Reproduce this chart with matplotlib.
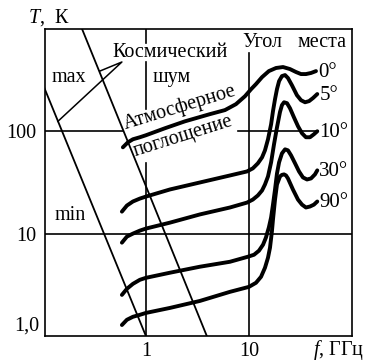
import matplotlib
matplotlib.use("Agg")
from matplotlib import pyplot as plt

plt.rcParams['font.family'] = ['Liberation Serif', 'DejaVu Serif']
plt.rcParams['mathtext.fontset'] = 'custom'
plt.rcParams['mathtext.rm'] = 'Liberation Serif'
plt.rcParams['mathtext.it'] = 'Liberation Serif:italic'

# brightness temperature of the atmosphere, f in GHz, T in K
f_0 = [0.598, 0.669, 0.748, 0.874, 1.0, 1.53, 2.39, 4.18, 5.85, 7.48, 9.15, 10.5, 11.7,
       13.4, 15.6, 18.3, 21.4, 25.0, 28.6, 32.0, 35.7, 40.0, 44.7]
T_0 = [69.7, 78.0, 83.5, 87.4, 91.4, 107, 125, 147, 161, 184, 220, 258, 289,
       338, 387, 415, 424, 405, 379, 362, 362, 371, 387]

f_5 = [0.585, 0.654, 0.748, 0.874, 1.0, 1.71, 3.34, 6.54, 9.57, 10.9, 12.2, 13.4, 14.3,
       15.3, 16.4, 17.1, 17.9, 18.7, 19.6, 20.9, 22.4, 23.9, 26.1, 29.2, 32.0, 35.0,
       38.3, 41.8, 46.0]
T_5 = [16.4, 18.8, 20.6, 22.0, 23.0, 27.0, 31.6, 37.0, 40.5, 43.4, 48.6, 55.6, 65.1,
       83.5, 117, 157, 206, 258, 309, 346, 354, 331, 282, 225, 201, 192,
       197, 211, 231]

f_10 = [0.585, 0.654, 0.748, 0.874, 1.0, 1.71, 3.34, 6.54, 9.57, 10.9, 12.2, 13.4, 14.3,
        15.3, 16.4, 17.5, 18.7, 20.0, 20.9, 21.9, 23.4, 25.0, 27.3, 29.9, 32.7, 35.7,
        39.1, 42.7, 46.0]
T_10 = [8.16, 9.35, 10.0, 10.7, 11.2, 12.8, 15.4, 18.0, 20.1, 21.5, 23.6, 26.4, 30.2,
        36.2, 49.7, 74.6, 109, 154, 180, 192, 188, 168, 137, 112, 95.6, 87.4,
        87.4, 93.5, 100]

f_30 = [0.585, 0.654, 0.748, 0.874, 1.0, 1.71, 3.34, 6.54, 9.78, 11.2, 12.5, 13.7, 14.6,
        15.6, 16.4, 17.1, 17.9, 18.7, 19.6, 20.9, 22.4, 23.9, 25.6, 28.0, 30.6, 33.4,
        36.6, 40.0, 43.7, 46.0]
T_30 = [2.52, 2.89, 3.23, 3.54, 3.70, 4.15, 4.75, 5.31, 5.95, 6.22, 6.81, 7.80, 9.14,
        11.5, 14.4, 19.2, 27.0, 38.7, 49.7, 60.8, 66.6, 65.1, 58.2, 48.6, 40.5, 35.4,
        33.8, 34.6, 37.9, 41.5]

f_90 = [0.585, 0.654, 0.748, 0.874, 1.0, 1.71, 3.34, 6.54, 10.0, 11.7, 13.1, 14.3, 15.3,
        16.0, 16.7, 17.1, 17.9, 18.7, 20.0, 20.9, 21.9, 22.9, 23.9, 26.7, 29.9, 32.7,
        35.7, 39.1, 42.7, 46.0]
T_90 = [1.28, 1.44, 1.54, 1.61, 1.68, 1.88, 2.20, 2.70, 3.02, 3.31, 3.79, 4.64, 5.82,
        7.29, 10.5, 13.7, 21.5, 30.2, 36.2, 37.5, 37.9, 37.0, 34.6, 27.0, 21.5, 19.2,
        18.0, 18.4, 19.2, 20.6]

curves = [(f_0, T_0), (f_5, T_5), (f_10, T_10), (f_30, T_30), (f_90, T_90)]
angle_labels = ['0°', '5°', '10°', '30°', '90°']

# cosmic noise bounds
f_cosmic_max = [0.1, 1.0]
T_cosmic_max = [288, 1.0]
f_cosmic_min = [0.24, 3.9]
T_cosmic_min = [1000, 1.0]

fig = plt.figure(figsize=(3.69, 3.63), dpi=100)
ax = fig.add_axes([0.122, 0.0744, 0.832, 0.846])
ax.set_xscale('log')
ax.set_yscale('log')
ax.set_xlim(0.105, 100)
ax.set_ylim(1, 1000)

# grid lines, broken where the captions sit
grid_kw = dict(color='black', lw=1.2, zorder=1)
ax.axvline(1, 0.0, 0.564, **grid_kw)
ax.axvline(1, 0.738, 0.893, **grid_kw)
ax.axvline(1, 0.954, 1.0, **grid_kw)
ax.axvline(10, 0.0, 0.922, **grid_kw)
ax.axhline(10, 0.0, 1.0, **grid_kw)
ax.axhline(100, 0.0, 0.254, **grid_kw)
ax.axhline(100, 0.629, 0.889, **grid_kw)

ax.plot(f_cosmic_max, T_cosmic_max, color='black', lw=1.3, zorder=3)
ax.plot(f_cosmic_min, T_cosmic_min, color='black', lw=1.3, zorder=3)

for (f, T), lab in zip(curves, angle_labels):
    ax.plot(f, T, color='black', lw=2.8, solid_capstyle='round',
            solid_joinstyle='round', zorder=4)
    ax.annotate(lab, (f[-1], T[-1]), xytext=(1.5, -1), textcoords='offset points',
                ha='left', va='center', fontsize=15)

# leader lines from the "cosmic noise" caption
ax.plot([0.140, 0.585, 0.357], [125, 475, 387], color='black', lw=1.1, zorder=3)

fs = 14.5
ax.text(0.478, 531, 'Космический', fontsize=fs, ha='left', va='baseline')
ax.text(1.17, 302, 'шум', fontsize=fs, ha='left', va='baseline')
ax.text(0.122, 302, 'max', fontsize=fs, ha='left', va='baseline')
ax.text(0.131, 13.7, 'min', fontsize=fs, ha='left', va='baseline')
ax.text(8.55, 666, 'Угол', fontsize=fs, ha='left', va='baseline')
ax.text(29.9, 666, 'места', fontsize=fs, ha='left', va='baseline')
ax.text(0.625, 105, 'Атмосферное', fontsize=fs, rotation=17,
        rotation_mode='anchor', ha='left', va='baseline')
ax.text(0.782, 56.9, 'поглощение', fontsize=fs, rotation=17.5,
        rotation_mode='anchor', ha='left', va='baseline')

ax.set_xticks([1, 10])
ax.set_xticklabels(['1', '10'])
ax.set_yticks([10, 100])
ax.set_yticklabels(['10', '100'])
ax.minorticks_off()
ax.tick_params(length=0, labelsize=fs)
ax.tick_params(axis='x', pad=4.5)
ax.tick_params(axis='y', pad=6)
ax.text(-0.02, 1.0, '1,0', transform=ax.get_yaxis_transform(), fontsize=fs,
        ha='right', va='bottom')

for sp in ax.spines.values():
    sp.set_linewidth(1.2)

fig.text(28 / 369, 1 - 23 / 363, '$T$,  К', fontsize=fs, ha='left', va='baseline')
fig.text(313 / 369, 1 - 355 / 363, '$f$, ГГц', fontsize=fs, ha='left', va='baseline')

fig.savefig('out.png', dpi=100)
plt.close(fig)
